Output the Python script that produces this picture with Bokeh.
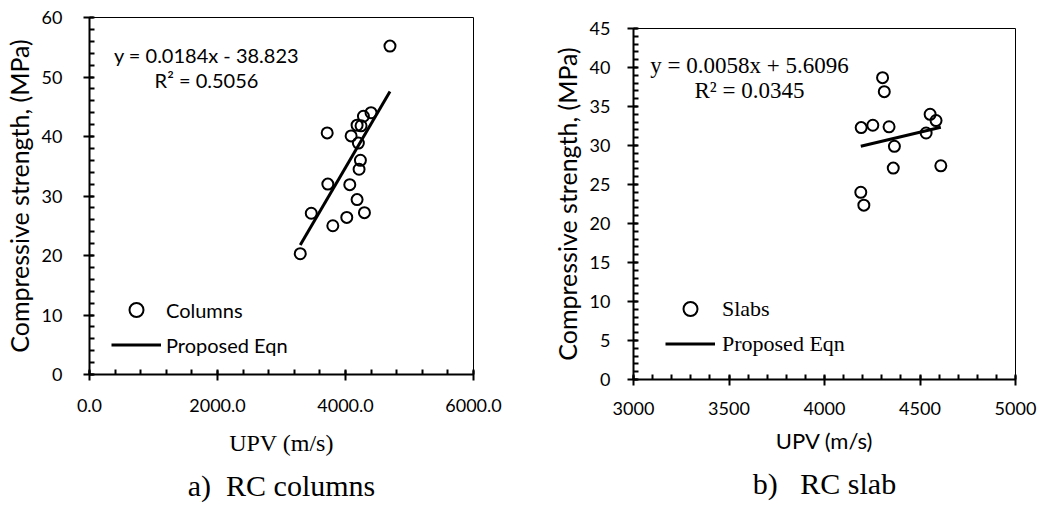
from bokeh.plotting import figure
from bokeh.models import (Range1d, SingleIntervalTicker, NumeralTickFormatter, Legend, LegendItem, Label, Title)
from bokeh.layouts import row, column
from bokeh.embed import file_html
from bokeh.resources import INLINE

# ---- data: RC columns ----
col_upv = [3293, 3465, 3714, 3724, 3802, 4020, 4067, 4088, 4181, 4181, 4201, 4212, 4233, 4243, 4280, 4296, 4399, 4695]
col_fc = [20.3, 27.1, 40.6, 32.0, 25.0, 26.4, 31.9, 40.1, 29.4, 41.9, 38.9, 34.5, 36.0, 41.8, 43.4, 27.2, 44.0, 55.2]
col_slope, col_intercept = 0.0184, -38.823
col_eq = ["y = 0.0184x - 38.823", "R\u00b2 = 0.5056"]

# ---- data: RC slab ----
slab_upv = [4192, 4206, 4190, 4253, 4304, 4313, 4338, 4360, 4366, 4532, 4553, 4584, 4609]
slab_fc = [32.3, 22.35, 24.0, 32.6, 38.7, 36.9, 32.4, 27.1, 29.9, 31.6, 34.0, 33.2, 27.4]
slab_slope, slab_intercept = 0.0058, 5.6096
slab_eq = ["y = 0.0058x + 5.6096", "R\u00b2 = 0.0345"]

SANS = "Lato"
SERIF = "Liberation Serif"


def style_axes(p, xint, yint, xfmt=None):
    p.xaxis.ticker = SingleIntervalTicker(interval=xint, num_minor_ticks=5)
    p.yaxis.ticker = SingleIntervalTicker(interval=yint, num_minor_ticks=5)
    if xfmt:
        p.xaxis.formatter = NumeralTickFormatter(format=xfmt)
    for ax in (p.xaxis[0], p.yaxis[0]):
        ax.axis_line_color = "black"
        ax.axis_line_width = 2
        ax.major_tick_line_color = "black"
        ax.major_tick_line_width = 2
        ax.minor_tick_line_color = "black"
        ax.minor_tick_line_width = 2
        ax.major_tick_in = 4
        ax.major_tick_out = 6
        ax.minor_tick_in = 5
        ax.minor_tick_out = 0
        ax.major_label_text_font = SANS
        ax.major_label_text_font_size = "18px"
        ax.major_label_text_color = "black"
        ax.axis_label_text_font_style = "normal"
        ax.axis_label_text_color = "black"
    p.xgrid.visible = False
    p.ygrid.visible = False
    p.outline_line_color = "black"
    p.outline_line_width = 1


def make(upv, fc, slope, intercept, eq, xr, yr, xint, yint, xfmt, w, h, borders,
         xlabel, xlabel_font, xlabel_size, ylabel_size, legend_font, legend_size, legend_name,
         legend_loc, legend_std, eq_font, eq_size, eq_pos, caption, cap_std, std):
    p = figure(width=w, height=h, output_backend="svg", toolbar_location=None,
               x_range=Range1d(*xr), y_range=Range1d(*yr),
               min_border_left=borders[0], min_border_right=borders[1],
               min_border_top=borders[2], min_border_bottom=borders[3])
    p.background_fill_color = "white"
    p.border_fill_color = "white"
    style_axes(p, xint, yint, xfmt)
    p.xaxis.axis_label = xlabel
    p.xaxis.axis_label_text_font = xlabel_font
    p.xaxis.axis_label_text_font_size = xlabel_size
    p.yaxis.axis_label = "Compressive strength, (MPa)"
    p.yaxis.axis_label_text_font = SANS
    p.yaxis.axis_label_text_font_size = ylabel_size
    p.xaxis.major_label_standoff = std[0]
    p.yaxis.major_label_standoff = std[1]
    p.xaxis.axis_label_standoff = std[2]
    p.yaxis.axis_label_standoff = std[3]

    fx = [min(upv), max(upv)]
    fy = [slope * v + intercept for v in fx]
    sc = p.scatter(upv, fc, marker="circle", size=11, line_color="black", line_width=2,
                   fill_alpha=0)
    ln = p.line(fx, fy, line_color="black", line_width=3)

    leg = Legend(items=[LegendItem(label=legend_name, renderers=[sc]),
                        LegendItem(label="Proposed Eqn", renderers=[ln])],
                 location=legend_loc, glyph_width=50, glyph_height=35, label_height=35,
                 spacing=0, padding=0, margin=0, label_standoff=legend_std,
                 label_text_font=legend_font, label_text_font_size=legend_size,
                 label_text_color="black",
                 border_line_color=None, background_fill_alpha=0)
    p.add_layout(leg)

    for i, t in enumerate(eq):
        p.add_layout(Label(x=eq_pos[0], y=eq_pos[1][i], x_units="screen", y_units="screen",
                           text=t, text_font=eq_font, text_font_size=eq_size,
                           text_align="center", text_baseline="alphabetic", text_color="black"))
    p.add_layout(Title(text=caption, text_font=SERIF, text_font_size="30px",
                       text_font_style="normal", text_color="black", align="center",
                       standoff=cap_std), "below")
    return p


p1 = make(col_upv, col_fc, col_slope, col_intercept, col_eq, (0, 6000), (0, 60), 2000, 10, "0.0",
          520, 512, (88, 47, 17, 138),
          "UPV (m/s)", SERIF, "24px", "25px", SANS, "20px", "Columns",
          (22, 12), 5, SANS, "20px", (117, [320, 295]),
          "a)\u00a0\u00a0RC columns", 16, (18, 21, 15, 5))

p2 = make(slab_upv, slab_fc, slab_slope, slab_intercept, slab_eq, (3000, 5000), (0, 45), 500, 5, None,
          524, 512, (113, 29, 28, 133),
          "UPV (m/s)", SANS, "22px", "25px", SERIF, "22px", "Slabs",
          (32, 18), 7, SERIF, "23px", (116, [314, 289]),
          "b)\u00a0\u00a0\u00a0RC slab", 17, (16, 17, 9, 5))

layout = row(column(p1), column(p2))
open("out.html", "w").write(file_html(layout, INLINE))
